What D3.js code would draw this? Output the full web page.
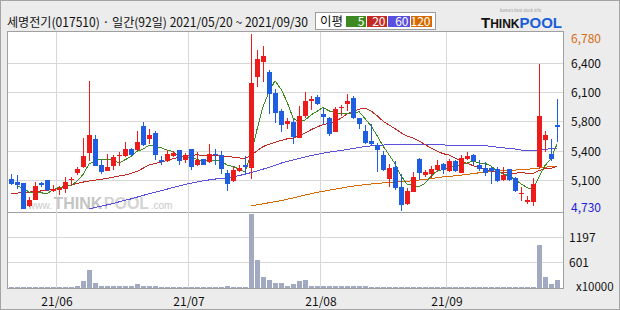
<!DOCTYPE html>
<html>
<head>
<meta charset="UTF-8">
<title>세명전기 일간</title>
<style>
  body { margin: 0; background: #fff; }
  svg { display: block; font-family: "Noto Sans CJK KR", "Noto Sans", sans-serif; }
  .grid line { stroke: #d8d8d8; shape-rendering: crispEdges; }
  .ma { fill: none; stroke-width: 1px; shape-rendering: crispEdges; }
  .candle { shape-rendering: crispEdges; }
</style>
</head>
<body>
<svg width="620" height="310"></svg>
<script src="https://cdnjs.cloudflare.com/ajax/libs/d3/7.8.5/d3.min.js"></script>
<script>
    // 92 trading days, 2021/05/20 ~ 2021/09/30
    var days = d3.range(92);

    var openP = [5097,5066,5046,4779,4857,5054,5085,4953,4965,4977,5085,5170,5232,5398,5561,5259,5193,5251,5367,5367,
                 5445,5429,5708,5561,5634,5313,5306,5367,5429,5321,5445,5263,5329,5298,5387,5375,5162,5073,5193,5263,
                 5228,6285,6459,6339,6099,5886,5739,5758,5576,5828,6006,6049,5851,5805,5646,5921,5971,6037,5805,5658,
                 5534,5495,5379,5100,5236,5004,4806,4949,5329,5147,5158,5205,5271,5186,5306,5170,5333,5375,5259,5228,
                 5224,5213,5081,5209,5108,4919,4833,4826,5232,5553,5387,5724];
    var highP = [5158,5147,5054,4888,5062,5066,5089,5023,5019,5120,5116,5232,5569,6234,5607,5313,5391,5375,5410,5530,
                 5453,5654,5754,5677,5650,5367,5437,5425,5437,5398,5449,5406,5333,5503,5445,5425,5197,5232,5259,5364,
                 6780,6590,6641,6358,6138,5909,5805,5797,5944,6107,6064,6076,5921,5812,5929,5952,6083,6060,5808,5727,
                 5735,5515,5425,5274,5302,5158,4992,5174,5335,5205,5244,5313,5282,5329,5317,5375,5406,5387,5313,5294,
                 5230,5232,5236,5217,5116,5004,4903,5108,6436,5654,5561,6025];
    var lowP  = [5031,4984,4748,4771,4849,5008,4957,4942,4915,4930,5012,5147,5224,5302,5244,5158,5186,5205,5244,5348,
                 5360,5418,5476,5503,5317,5255,5294,5348,5263,5282,5205,5251,5259,5286,5255,5158,4961,5066,5178,5147,
                 5100,6169,6219,5855,5750,5638,5681,5507,5573,5801,5902,5960,5739,5600,5638,5824,5890,5793,5677,5503,
                 5476,5178,5193,5004,4973,4730,4799,4946,5089,5120,5108,5178,5158,5178,5178,5162,5313,5255,5186,5127,
                 5042,5058,5070,5077,4946,4845,4810,4779,5217,5406,5309,5530];
    var closeP = [5039,5031,4752,4853,5015,5031,4973,4977,4992,5062,5100,5216,5364,5607,5251,5178,5236,5356,5379,5445,
                 5375,5526,5487,5611,5379,5298,5387,5398,5302,5375,5240,5317,5263,5387,5371,5216,5042,5197,5220,5232,
                 6211,6490,6525,6087,5867,5727,5766,5580,5828,6002,6025,5971,5812,5623,5909,5933,6006,5805,5739,5514,
                 5507,5437,5205,5228,4992,4799,4961,5120,5170,5178,5213,5263,5205,5309,5193,5340,5367,5302,5209,5170,
                 5186,5077,5143,5085,4961,4934,4853,5039,5828,5607,5333,5704];

    // volume, x10000 shares
    var volume = [30,30,30,30,30,30,30,30,30,30,30,59,154,438,107,59,59,36,59,59,
                  36,83,59,59,59,30,30,30,30,30,30,30,30,30,30,30,59,30,30,30,
                  1742,675,257,178,115,130,59,83,154,178,59,59,59,59,36,36,59,59,36,59,
                  30,30,30,30,30,30,30,30,30,30,30,30,30,30,30,30,30,30,30,30,
                  30,30,30,30,30,30,30,30,1007,257,83,201];

    // moving averages (null = not drawn)
    var ma5 = [null,5015,4990,4945,4938,4936,4925,4970,4998,5007,5021,5069,5147,5270,5308,5323,5327,5326,5280,5319,
               5358,5416,5442,5489,5476,5460,5432,5415,5353,5352,5340,5326,5299,5316,5316,5311,5256,5243,5209,5181,
               5380,5670,5936,6109,6236,6139,5994,5805,5754,5781,5840,5881,5928,5887,5868,5850,5857,5855,5878,5799,
               5714,5600,5480,5378,5274,5132,5037,5020,5008,5046,5128,5189,5206,5234,5237,5262,5283,5302,5282,5278,
               5247,5189,5157,5132,5090,5040,4995,4974,5123,5252,5332,5502];
    var ma20 = [4926,4932,4938,4944,4950,4957,4964,4975,4990,5005,5025,5045,5060,5072,5082,5092,5104,5116,5130,5143,
                5160,5184,5221,5259,5277,5291,5311,5332,5348,5364,5371,5376,5371,5360,5366,5367,5358,5350,5342,5331,
                5373,5421,5473,5497,5521,5543,5562,5571,5597,5628,5668,5700,5728,5740,5767,5802,5851,5881,5907,5921,
                5886,5833,5767,5724,5680,5634,5594,5571,5538,5497,5456,5421,5390,5375,5339,5309,5277,5252,5226,5208,
                5192,5174,5171,5164,5163,5169,5164,5160,5193,5214,5220,5242];
    var ma60 = [null,null,null,null,null,null,null,null,null,null,null,null,null,4750,4765,4780,4795,4812,4830,4848,
                4865,4885,4905,4925,4942,4960,4978,4996,5014,5032,5048,5062,5075,5085,5095,5103,5110,5120,5135,5152,
                5170,5190,5210,5232,5255,5280,5298,5316,5334,5352,5368,5382,5395,5408,5418,5428,5437,5450,5463,5473,
                5480,5486,5490,5493,5495,5495,5495,5495,5495,5495,5495,5495,5495,5484,5484,5484,5484,5484,5484,5484,
                5475,5465,5458,5450,5445,5432,5425,5425,5437,5440,5449,5452];
    var ma120 = [null,null,null,null,null,null,null,null,null,null,null,null,null,null,null,null,null,null,null,null,
                 null,null,null,null,null,null,null,null,null,null,null,null,null,null,null,null,null,null,null,null,
                 4782,4795,4808,4820,4833,4845,4860,4875,4893,4910,4925,4940,4952,4965,4978,4990,5002,5012,5022,5030,
                 5038,5045,5050,5055,5060,5064,5070,5075,5085,5092,5100,5112,5120,5126,5133,5140,5150,5158,5168,5176,
                 5182,5187,5192,5196,5200,5203,5208,5215,5222,5232,5240,5246];

    var maNames = ["5", "20", "60", "120"];
    var maColors = ["#3d8a22", "#c42a24", "#5b4fe0", "#d66a00"];

    var priceGrid = [6437, 6100, 5764, 5415, 5078];
    var priceTickLabels = ["6,400", "6,100", "5,800", "5,400", "5,100"];
    var volGrid = [1197, 601];
    var volTickLabels = ["1197", "601"];
    var monthStart = [8, 30, 52, 73];
    var monthLabels = ["21/06", "21/07", "21/08", "21/09"];

    var svg = d3.select("svg");
    var W = 620, H = 310;
    var plot = {left: 7, right: 563, top: 31, mid: 212, bottom: 288};

    // background and frame
    svg.append("rect").attr("width", W).attr("height", H).attr("fill", "#ececec");
    svg.append("rect").attr("x", 0.5).attr("y", 0.5).attr("width", W - 1).attr("height", H - 1)
        .attr("fill", "none").attr("stroke", "#a4a4a4");
    svg.append("rect").attr("x", plot.left + 0.5).attr("y", plot.top + 0.5)
        .attr("width", plot.right - plot.left).attr("height", plot.bottom - plot.top)
        .attr("fill", "#fff").attr("stroke", "#a0a0a0").attr("shape-rendering", "crispEdges");
    svg.append("line").attr("x1", plot.left).attr("x2", plot.right)
        .attr("y1", plot.mid + 0.5).attr("y2", plot.mid + 0.5)
        .attr("stroke", "#a0a0a0").attr("shape-rendering", "crispEdges");

    // scales
    var x = d3.scaleBand().domain(days).range([8, 560]);
    var y = d3.scaleLinear().domain([4730, 6780]).range([210.5, 34]);
    var vy = d3.scaleLinear().domain([0, 1800]).range([288, 212]);

    // grid
    var grid = svg.append("g").attr("class", "grid");
    grid.selectAll(".hp").data(priceGrid).enter().append("line")
        .attr("x1", plot.left + 1).attr("x2", plot.right)
        .attr("y1", function (d) { return Math.floor(y(d)) + 0.5; })
        .attr("y2", function (d) { return Math.floor(y(d)) + 0.5; });
    grid.selectAll(".hv").data(volGrid).enter().append("line")
        .attr("x1", plot.left + 1).attr("x2", plot.right)
        .attr("y1", function (d) { return Math.floor(vy(d)) + 0.5; })
        .attr("y2", function (d) { return Math.floor(vy(d)) + 0.5; });
    grid.selectAll(".vx").data(monthStart).enter().append("line")
        .attr("x1", function (d) { return x(d) + 0.5; })
        .attr("x2", function (d) { return x(d) + 0.5; })
        .attr("y1", plot.top + 1).attr("y2", plot.bottom);

    // watermark, pieces laid one after another by their measured width
    var wmParts = [
        {t: "www.", size: 10, bold: false, fill: "#c9c9c9"},
        {t: "THINK", size: 16, bold: true, fill: "#c4c4c4"},
        {t: "POOL", size: 16, bold: true, fill: "#d4d4d4"},
        {t: ".com", size: 10, bold: false, fill: "#c9c9c9"}
    ];
    var wmX = 28;
    wmParts.forEach(function (p) {
        var t = svg.append("text").attr("x", wmX).attr("y", 209)
            .attr("font-family", "Arial, 'Liberation Sans', sans-serif")
            .attr("font-weight", p.bold ? "bold" : "normal")
            .attr("font-size", p.size).attr("fill", p.fill).text(p.t);
        wmX += t.node().getComputedTextLength() + 1.5;
    });

    // moving averages
    var line = d3.line()
        .defined(function (d) { return d != null; })
        .x(function (d, i) { return x(i) + 3; })
        .y(function (d) { return y(d); });
    [ma120, ma60, ma20, ma5].forEach(function (s, k) {
        svg.append("path").datum(s).attr("class", "ma")
            .attr("stroke", maColors[3 - k]).attr("d", line);
    });

    // candles
    var candles = svg.append("g").attr("class", "candle")
        .selectAll("g").data(days).enter().append("g");
    function col(i) { return closeP[i] >= openP[i] ? "#ee1b1b" : "#1f5ee0"; }
    candles.append("line")
        .attr("x1", function (i) { return x(i) + 3.5; })
        .attr("x2", function (i) { return x(i) + 3.5; })
        .attr("y1", function (i) { return y(highP[i]); })
        .attr("y2", function (i) { return y(lowP[i]); })
        .attr("stroke", col);
    candles.append("rect")
        .attr("x", function (i) { return x(i) + 1; })
        .attr("width", x.bandwidth() - 1)
        .attr("y", function (i) { return y(Math.max(openP[i], closeP[i])); })
        .attr("height", function (i) { return Math.max(1, Math.abs(y(openP[i]) - y(closeP[i]))); })
        .attr("fill", col);

    // volume bars
    svg.append("g").attr("class", "candle").selectAll("rect").data(volume).enter().append("rect")
        .attr("x", function (d, i) { return x(i) + 1; })
        .attr("width", x.bandwidth() - 1)
        .attr("y", function (d) { return vy(d); })
        .attr("height", function (d) { return vy(0) - vy(d); })
        .attr("fill", "#a2aac2");

    // right axis labels
    var ax = 571;
    svg.selectAll(".pl").data(priceGrid).enter().append("text")
        .attr("x", ax).attr("y", function (d) { return Math.floor(y(d)) + 4.5; })
        .attr("font-size", 12).attr("fill", "#111")
        .text(function (d, i) { return priceTickLabels[i]; });
    var maxP = d3.max(highP), minP = d3.min(lowP);
    svg.append("text").attr("x", ax).attr("y", Math.max(y(maxP), 38) + 4.5)
        .attr("font-size", 12).attr("fill", "#d86a10").text(d3.format(",")(maxP));
    svg.append("text").attr("x", ax).attr("y", Math.min(y(minP), 207) + 4.5)
        .attr("font-size", 12).attr("fill", "#1a22d8").text(d3.format(",")(minP));
    svg.selectAll(".vl").data(volGrid).enter().append("text")
        .attr("x", ax - 2).attr("y", function (d) { return Math.floor(vy(d)) + 4.5; })
        .attr("font-size", 12).attr("fill", "#111")
        .text(function (d, i) { return volTickLabels[i]; });
    svg.append("text").attr("x", 576).attr("y", 290.5).attr("font-size", 11.5).attr("fill", "#111").text("x10000");

    // month labels
    svg.selectAll(".ml").data(monthStart).enter().append("text")
        .attr("x", function (d) { return x(d) + 1; }).attr("y", 306)
        .attr("text-anchor", "middle").attr("font-size", 12).attr("fill", "#111")
        .text(function (d, i) { return monthLabels[i]; });

    // header
    svg.append("text").attr("x", 7).attr("y", 27).attr("font-size", 12.5).attr("fill", "#111")
        .attr("textLength", 301).attr("lengthAdjust", "spacingAndGlyphs")
        .text("세명전기(017510) · 일간(92일) 2021/05/20 ~ 2021/09/30");

    // legend
    svg.append("rect").attr("x", 315.5).attr("y", 12.5).attr("width", 120).attr("height", 17)
        .attr("fill", "#fff").attr("stroke", "#9c9c9c");
    svg.append("text").attr("x", 320).attr("y", 26).attr("font-size", 12.5).attr("fill", "#111").text("이평");
    var legX = [346, 367, 388, 411, 433];
    maNames.forEach(function (n, k) {
        svg.append("rect").attr("x", legX[k]).attr("y", 16).attr("width", legX[k + 1] - legX[k] - 1)
            .attr("height", 11).attr("fill", maColors[k]);
        svg.append("text").attr("x", legX[k + 1] - 2.5).attr("y", 26).attr("text-anchor", "end")
            .attr("font-size", 12).attr("fill", "#fff").text(n);
    });

    // logo
    svg.append("text").attr("x", 500).attr("y", 12).attr("font-size", 4).attr("fill", "#999")
        .text("korea's best stock info");
    var logo = svg.append("text").attr("x", 481).attr("y", 28)
        .attr("font-family", "Arial, 'Liberation Sans', sans-serif").attr("font-weight", "bold");
    logo.append("tspan").attr("font-size", 15).attr("fill", "#111").text("T");
    logo.append("tspan").attr("font-size", 12).attr("fill", "#111").text("HINK");
    logo.append("tspan").attr("font-size", 15).attr("fill", "#1a5fd6").text("POOL");
</script>
</body>
</html>
